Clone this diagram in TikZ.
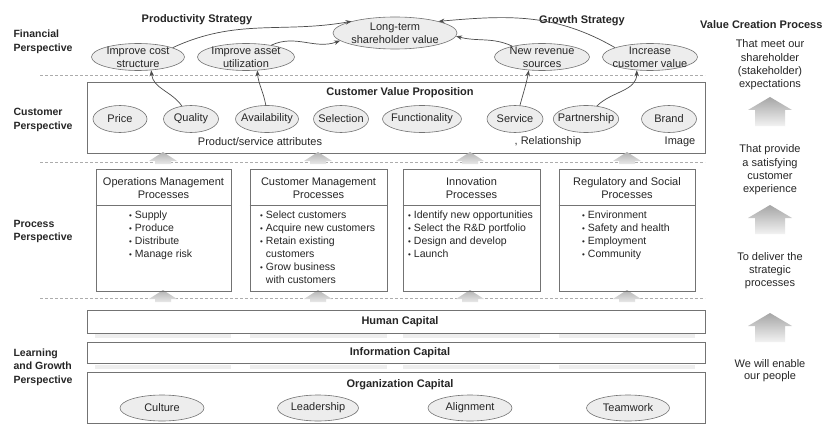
\documentclass[tikz,border=0pt]{standalone}
\usepackage{fontspec}
\setmainfont{Liberation Sans}
\usetikzlibrary{shapes.geometric,arrows.meta}
\newcommand\mybul{{\fontsize{8}{8}\selectfont\raisebox{0.5pt}{•}}\ }
\newcommand\myind{\phantom{\mybul}}
\begin{document}
\begin{tikzpicture}[x=1pt,y=-1pt,
  every node/.style={font=\fontsize{11}{13}\selectfont, text=black!85},
  oval/.style={ellipse, draw=black!55, fill=gray!14, inner sep=-5pt, align=center, line width=0.6pt, minimum height=27pt},
  bx/.style={draw=black!55, line width=0.6pt, inner sep=0pt},
  ttl/.style={font=\fontsize{11}{13}\selectfont\bfseries},
  lbl/.style={font=\fontsize{10.5}{13.5}\selectfont\bfseries, align=left, anchor=west},
  note/.style={align=center, font=\fontsize{11}{13.3}\selectfont},
  lst/.style={align=left, anchor=north west, inner sep=0pt, font=\fontsize{10.5}{13}\selectfont},
  sep/.style={draw=gray!65, dash pattern=on 3pt off 2pt, line width=0.6pt},
  conn/.style={-{Stealth[length=6pt,width=4.5pt]}, draw=black!70, line width=0.7pt},
  smallarr/.pic={\shade[top color=gray!60, bottom color=gray!18] (0,0) -- (14,9) -- (8,9) -- (8,12) -- (-8,12) -- (-8,9) -- (-14,9) -- cycle;},
  bigarr/.pic={\shade[top color=gray!70, bottom color=gray!10] (0,0) -- (22,13) -- (15,13) -- (15,29) -- (-15,29) -- (-15,13) -- (-22,13) -- cycle;},
]
\useasboundingbox (0,0) rectangle (826,425);
\fill[white] (0,0) rectangle (826,425);

% ---------- separators ----------
\draw[sep] (40,75) -- (705,75);
\draw[sep] (40,162) -- (705,162);
\draw[sep] (40,298) -- (705,298);

% ---------- left labels ----------
\node[lbl] (finl) at (10,42) {Financial\\Perspective};
\node[lbl] (cusl) at (10,120) {Customer\\Perspective};
\node[lbl] (prol) at (10,231.5) {Process\\Perspective};
\node[lbl] (lgl) at (10,367) {Learning\\and Growth\\Perspective};

% ---------- financial ----------
\node[ttl] (ps) at (197,20) {Productivity Strategy};
\node[ttl] (gs) at (582,21) {Growth Strategy};
\node[ttl, anchor=west, inner sep=0pt] (vcp) at (700,25) {Value Creation Process};

\node[oval, minimum width=93pt] (ics) at (138,57) {Improve cost\\structure};
\node[oval, minimum width=97pt] (ia) at (246,57) {Improve asset\\utilization};
\node[oval, minimum width=124pt, minimum height=32pt] (lt) at (395,33) {Long-term\\shareholder value};
\node[oval, minimum width=95pt] (nr) at (542,57) {New revenue\\sources};
\node[oval, minimum width=95pt] (icv) at (650,57) {Increase\\customer value};

% ---------- customer ----------
\node[bx, minimum width=618pt, minimum height=71pt] (cvp) at (396,117.5) {};
\node[ttl] (cvpt) at (400,93) {Customer Value Proposition};
\node[oval, minimum width=54pt] (price) at (120,119) {Price};
\node[oval, minimum width=55pt] (qual) at (191,119) {Quality};
\node[oval, minimum width=63pt] (avail) at (267,119) {Availability};
\node[oval, minimum width=55pt] (sel) at (341,119) {Selection};
\node[oval, minimum width=79pt] (func) at (422,119) {Functionality};
\node[oval, minimum width=56pt] (serv) at (515,119) {Service};
\node[oval, minimum width=64pt] (part) at (586,119) {Partnership};
\node[oval, minimum width=55pt] (brand) at (669,119) {Brand};
\node (psa) at (260,142) {Product/service attributes};
\node (rel) at (548,142) {, Relationship};
\node (img) at (680,142) {Image};

% ---------- connectors ----------
\draw[conn] (ics.15) to[out=25,in=190] (lt.165);
\draw[conn] (ia.25) to[out=25,in=200] (lt.188);
\draw[conn] (nr.160) to[out=155,in=-15] (lt.-3);
\draw[conn] (icv.165) to[out=150,in=5] (lt.15);
\draw[conn] (qual.125) to[out=125,in=-85] (ics.-45);
\draw[conn] (avail.95) to[out=100,in=-85] (ia.-50);
\draw[conn] (serv.70) to[out=75,in=-100] (nr.-135);
\draw[conn] (part.50) to[out=45,in=-90] (icv.-135);

% ---------- small gray arrows ----------
\pic at (163,152) {smallarr};
\pic at (318,152) {smallarr};
\pic at (470,152) {smallarr};
\pic at (627,152) {smallarr};
\pic at (163,290) {smallarr};
\pic at (318,290) {smallarr};
\pic at (470,290) {smallarr};
\pic at (627,290) {smallarr};

% ---------- process ----------
\node[bx, minimum width=135pt, minimum height=122pt] (op) at (163.5,230) {};
\node[bx, minimum width=137pt, minimum height=122pt] (cm) at (318.5,230) {};
\node[bx, minimum width=137pt, minimum height=122pt] (inn) at (471.5,230) {};
\node[bx, minimum width=136pt, minimum height=122pt] (reg) at (627,230) {};
\foreach \b in {op,cm,inn,reg}{
  \draw[draw=black!55, line width=0.6pt] ([yshift=-37pt]\b.north west) -- ([yshift=-37pt]\b.north east);
}
\node[align=center] (oph) at (163.5,188.5) {Operations Management\\Processes};
\node[align=center] (cmh) at (318.5,188.5) {Customer Management\\Processes};
\node[align=center] (innh) at (471.5,188.5) {Innovation\\Processes};
\node[align=center] (regh) at (627,188.5) {Regulatory and Social\\Processes};

\node[lst] (opl) at (129,211) {\mybul Supply\\\mybul Produce\\\mybul Distribute\\\mybul Manage risk};
\node[lst] (cml) at (260,211) {\mybul Select customers\\\mybul Acquire new customers\\\mybul Retain existing\\\myind customers\\\mybul Grow business\\\myind with customers};
\node[lst] (innl) at (408,211) {\mybul Identify new opportunities\\\mybul Select the R\&D portfolio\\\mybul Design and develop\\\mybul Launch};
\node[lst] (regl) at (582,211) {\mybul Environment\\\mybul Safety and health\\\mybul Employment\\\mybul Community};

% ---------- learning and growth ----------
\foreach \xa/\xb in {95/231,250/387,403/540,559/695}{
  \fill[gray!13] (\xa,334) rectangle (\xb,338);
  \fill[gray!13] (\xa,365) rectangle (\xb,369);
}
\node[bx, minimum width=618pt, minimum height=23pt] (hc) at (396,321.5) {};
\node[ttl] (hct) at (400,322) {Human Capital};
\node[bx, minimum width=618pt, minimum height=21pt] (ic) at (396,352.5) {};
\node[ttl] (ict) at (400,353) {Information Capital};
\node[bx, minimum width=618pt, minimum height=51pt] (oc) at (396,397.5) {};
\node[ttl] (oct) at (400,385) {Organization Capital};
\node[oval, minimum width=84pt, minimum height=26pt] (cult) at (162,408) {Culture};
\node[oval, minimum width=81pt, minimum height=26pt] (lead) at (318,408) {Leadership};
\node[oval, minimum width=84pt, minimum height=26pt] (align) at (470,408) {Alignment};
\node[oval, minimum width=83pt, minimum height=26pt] (team) at (628,408) {Teamwork};

% ---------- value creation column ----------
\node[note] (v1) at (770,65) {That meet our\\shareholder\\(stakeholder)\\expectations};
\pic at (770,97) {bigarr};
\node[note] (v2) at (770,170) {That provide\\a satisfying\\customer\\experience};
\pic at (770,205) {bigarr};
\node[note] (v3) at (770,270.5) {To deliver the\\strategic\\processes};
\pic at (770,313) {bigarr};
\node[note, font=\fontsize{11}{12}\selectfont] (v4) at (770,371) {We will enable\\our people};
\end{tikzpicture}
\end{document}
